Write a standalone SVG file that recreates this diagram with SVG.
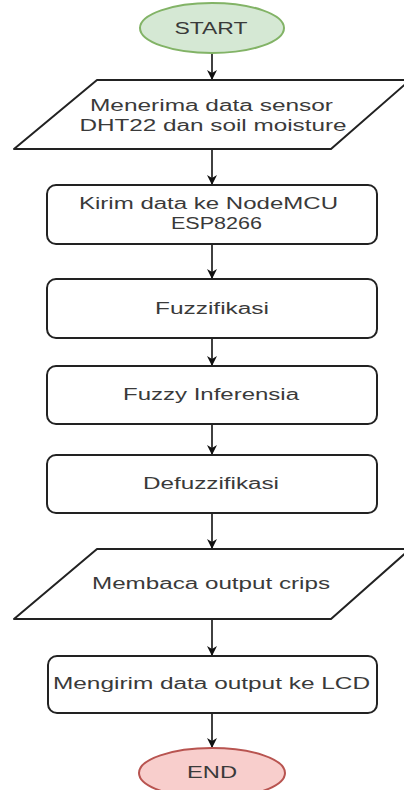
<svg xmlns="http://www.w3.org/2000/svg" width="404" height="790" viewBox="0 0 404 790">
  <defs>
    <marker id="arrow" markerUnits="userSpaceOnUse" markerWidth="12" markerHeight="12" refX="10" refY="5" orient="auto">
      <path d="M0,0 L10,5 L0,10 L3,5 Z" fill="#111"/>
    </marker>
    <style>
      .box { fill: #ffffff; stroke: #222; stroke-width: 2; }
      .start { fill: #d5e8d4; stroke: #82b366; stroke-width: 2; }
      .end { fill: #f8cecc; stroke: #b85450; stroke-width: 2; }
      .lbl { font-family: "Liberation Sans", Arial, sans-serif; font-size: 16px; fill: #3a3a3a; text-anchor: middle; }
      .edge { stroke: #111; stroke-width: 1.6; fill: none; marker-end: url(#arrow); }
    </style>
  </defs>
  <rect width="404" height="790" fill="#ffffff"/>

  <g id="connectors">
    <line class="edge" x1="212" y1="53" x2="212" y2="80"/>
    <line class="edge" x1="212" y1="149" x2="212" y2="185"/>
    <line class="edge" x1="212" y1="244" x2="212" y2="279"/>
    <line class="edge" x1="212" y1="338" x2="212" y2="366"/>
    <line class="edge" x1="212" y1="424" x2="212" y2="455"/>
    <line class="edge" x1="212" y1="513" x2="212" y2="549"/>
    <line class="edge" x1="212" y1="619" x2="212" y2="656"/>
    <line class="edge" x1="212" y1="713" x2="212" y2="748"/>
  </g>

  <g id="start">
    <ellipse class="start" cx="212" cy="28" rx="72" ry="25"/>
    <text class="lbl" x="211" y="33.5" font-size="15" textLength="73" lengthAdjust="spacingAndGlyphs">START</text>
  </g>

  <g id="read-sensor">
    <path class="box" d="M97,80 L410,80 L331,149 L14,149 Z" stroke-linejoin="round"/>
    <text class="lbl" x="211.5" y="110.5" textLength="243" lengthAdjust="spacingAndGlyphs">Menerima data sensor</text>
    <text class="lbl" x="213" y="130.5" textLength="267" lengthAdjust="spacingAndGlyphs">DHT22 dan soil moisture</text>
  </g>

  <g id="send-nodemcu">
    <rect class="box" x="47" y="185" width="330" height="59" rx="9"/>
    <text class="lbl" x="208.5" y="208.5" textLength="259" lengthAdjust="spacingAndGlyphs">Kirim data ke NodeMCU</text>
    <text class="lbl" x="216.5" y="228.5" textLength="91" lengthAdjust="spacingAndGlyphs">ESP8266</text>
  </g>

  <g id="fuzzifikasi">
    <rect class="box" x="47" y="279" width="330" height="59" rx="9"/>
    <text class="lbl" x="212" y="313.5" textLength="114" lengthAdjust="spacingAndGlyphs">Fuzzifikasi</text>
  </g>

  <g id="inferensia">
    <rect class="box" x="47" y="366" width="330" height="58" rx="9"/>
    <text class="lbl" x="211" y="399.5" textLength="176" lengthAdjust="spacingAndGlyphs">Fuzzy Inferensia</text>
  </g>

  <g id="defuzzifikasi">
    <rect class="box" x="47" y="455" width="330" height="58" rx="9"/>
    <text class="lbl" x="211" y="488.5" textLength="136" lengthAdjust="spacingAndGlyphs">Defuzzifikasi</text>
  </g>

  <g id="read-output">
    <path class="box" d="M97,549 L410,549 L331,619 L14,619 Z" stroke-linejoin="round"/>
    <text class="lbl" x="211" y="588.5" textLength="238" lengthAdjust="spacingAndGlyphs">Membaca output crips</text>
  </g>

  <g id="send-lcd">
    <rect class="box" x="48" y="656" width="329" height="57" rx="9"/>
    <text class="lbl" x="211.5" y="688.5" textLength="317" lengthAdjust="spacingAndGlyphs">Mengirim data output ke LCD</text>
  </g>

  <g id="end">
    <ellipse class="end" cx="212" cy="773" rx="73" ry="25"/>
    <text class="lbl" x="212" y="777.5" font-size="15" textLength="50" lengthAdjust="spacingAndGlyphs">END</text>
  </g>
</svg>
